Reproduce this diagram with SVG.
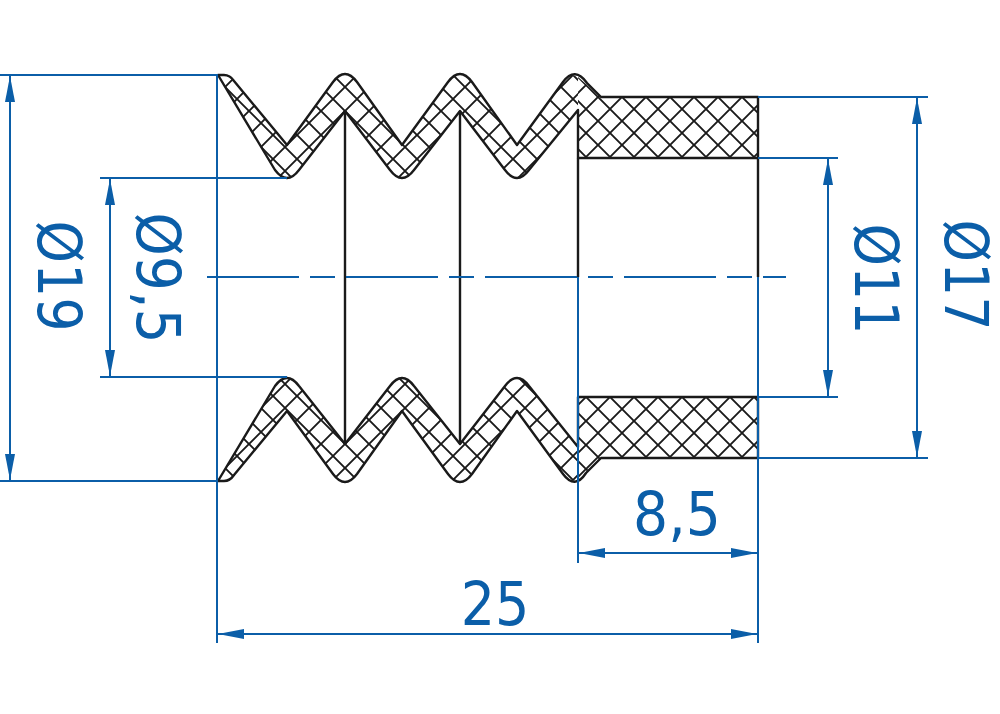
<svg xmlns="http://www.w3.org/2000/svg" width="1000" height="714" viewBox="0 0 1000 714">
<style>
.o{fill:none;stroke:#1a1a1a;stroke-width:2.4;stroke-linejoin:round}
.d{fill:none;stroke:#0b5ea8;stroke-width:2}
.t{fill:#0b5ea8;font-family:"DejaVu Sans",sans-serif;font-size:60px}
.h{stroke:#1a1a1a;stroke-width:1.9;fill:none}
</style>
<defs>
<pattern id="hb1" width="24" height="24" patternUnits="userSpaceOnUse" patternTransform="translate(622 97)"><path class="h" d="M-6 -6L30 30M30 -6L-6 30"/></pattern>
<pattern id="hb2" width="24" height="24" patternUnits="userSpaceOnUse" patternTransform="translate(610 397)"><path class="h" d="M-6 -6L30 30M30 -6L-6 30"/></pattern>
<pattern id="hw1" width="24" height="24" patternUnits="userSpaceOnUse" patternTransform="translate(345 111)"><path class="h" d="M-6 -6L30 30M30 -6L-6 30"/></pattern>
<pattern id="hw2" width="24" height="24" patternUnits="userSpaceOnUse" patternTransform="translate(345 444)"><path class="h" d="M-6 -6L30 30M30 -6L-6 30"/></pattern>
<marker id="a" markerWidth="26" markerHeight="10" refX="26" refY="5" orient="auto-start-reverse" markerUnits="userSpaceOnUse"><path d="M0 0L26 5L0 10Z" fill="#0b5ea8"/></marker>
</defs>
<rect width="1000" height="714" fill="#fff"/>
<g id="part">
<path id="wall-top" fill="url(#hw1)" d="M218 75H224Q230 75 234 81L287 145L333 82Q345 66 357 82L402 145L448 82Q460 66 472 82L517 145L563 82Q570 72 578 77V110L529 170Q517 186 505 170L460 111L414 170Q402 186 390 170L345 111L299 170Q287 186 275 170Z"/>
<path id="wall-bottom" fill="url(#hw2)" d="M218 481H224Q230 481 234 475L287 411L333 474Q345 490 357 474L402 411L448 474Q460 490 472 474L517 411L563 474Q570 484 578 479V447L529 386Q517 370 505 386L460 444L414 386Q402 370 390 386L345 444L299 386Q287 370 275 386Z"/>
<path id="ring-top" fill="url(#hb1)" d="M578 77L601 97H758V158H578Z"/>
<path id="ring-bottom" fill="url(#hb2)" d="M578 397H758V458H601L578 479Z"/>
<path class="o" d="M218 75H224Q230 75 234 81L287 145L333 82Q345 66 357 82L402 145L448 82Q460 66 472 82L517 145L563 82Q575 66 587 83L601 97H758V158H578V110L529 170Q517 186 505 170L460 111L414 170Q402 186 390 170L345 111L299 170Q287 186 275 170Z"/>
<path class="o" d="M218 481H224Q230 481 234 475L287 411L333 474Q345 490 357 474L402 411L448 474Q460 490 472 474L517 411L563 474Q575 490 586 473L601 458H758V397H578V447L529 386Q517 370 505 386L460 444L414 386Q402 370 390 386L345 444L299 386Q287 370 275 386Z"/>
<path class="o" d="M345 111V444M460 111V444M578 158V277M758 158V277"/>
</g>
<g id="connectors">
<path class="d" d="M0 75H218M0 481H218M100 178H287M100 377H287M758 97H928M758 458H928M758 158H838M758 397H838M217 75V643M758 277V643M578 277V563"/>
<path class="d" stroke-width="2.6" stroke-dasharray="92 11 25 11" d="M207 277H786"/>
<path class="d" marker-start="url(#a)" marker-end="url(#a)" d="M10 76V480"/>
<path class="d" marker-start="url(#a)" marker-end="url(#a)" d="M110 179V376"/>
<path class="d" marker-start="url(#a)" marker-end="url(#a)" d="M828 159V396"/>
<path class="d" marker-start="url(#a)" marker-end="url(#a)" d="M917 98V457"/>
<path class="d" marker-start="url(#a)" marker-end="url(#a)" d="M579 553H757"/>
<path class="d" marker-start="url(#a)" marker-end="url(#a)" d="M218 634H757"/>
</g>
<g id="labels">
<text class="t" transform="translate(38 276) rotate(90) scale(.9 1)" text-anchor="middle">Ø19</text>
<text class="t" transform="translate(137 278) rotate(90) scale(.92 1)" text-anchor="middle">Ø9,5</text>
<text class="t" transform="translate(855 279) rotate(90) scale(.9 1)" text-anchor="middle">Ø11</text>
<text class="t" transform="translate(945 275) rotate(90) scale(.9 1)" text-anchor="middle">Ø17</text>
<text class="t" transform="translate(677 535) scale(.92 1)" text-anchor="middle">8,5</text>
<text class="t" transform="translate(495 625) scale(.9 1)" text-anchor="middle">25</text>
</g>
</svg>
